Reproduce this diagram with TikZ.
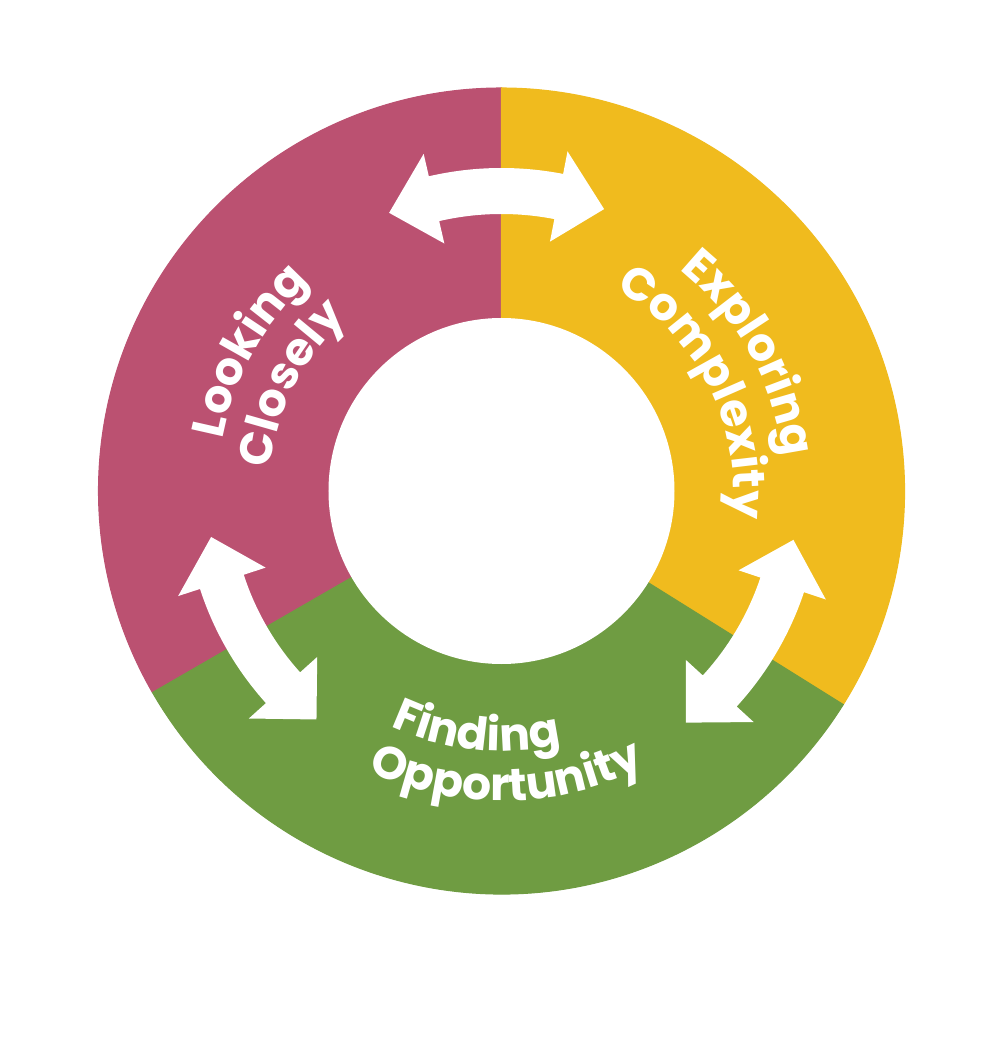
\documentclass[tikz,border=0pt]{standalone}
\usepackage{fontspec}
\usetikzlibrary{decorations.text}
\newfontfamily\ringfam{Poppins}
\definecolor{ringred}{RGB}{187,81,113}
\definecolor{ringyellow}{RGB}{240,187,30}
\definecolor{ringgreen}{RGB}{111,156,66}
\newcommand{\ringfont}{\ringfam\bfseries\fontsize{13pt}{14pt}\selectfont}
\tikzset{
  ringsector/.style={fill=#1, draw=#1, line width=0.3pt},
  ringarrow/.style={fill=white},
  ringlabel/.style={decorate, decoration={text along path, text align=center,
      text color=white, text={|\ringfont|#1}}},
}
% one sector of the ring: start angle, end angle, colour
\newcommand{\ringpart}[3]{%
  \filldraw[ringsector=#3] (c) -- (#1:4.03) arc[start angle=#1, end angle=#2, radius=4.03] -- cycle;}
% curved double arrow: mid angle, radius
\newcommand{\ringarrow}[2]{%
  \fill[ringarrow] ({#1-12}:{#2+0.23}) arc[start angle={#1-12}, end angle={#1+12}, radius={#2+0.23}]
    -- ({#1+12}:{#2+0.46}) -- ({#1+21}:#2) -- ({#1+12}:{#2-0.46}) -- ({#1+12}:{#2-0.23})
    arc[start angle={#1+12}, end angle={#1-12}, radius={#2-0.23}]
    -- ({#1-12}:{#2-0.46}) -- ({#1-21}:#2) -- ({#1-12}:{#2+0.46}) -- cycle;}

\begin{document}
\begin{tikzpicture}
  \useasboundingbox[fill=white] (-5.015,-5.60) rectangle (4.985,4.91);
  \coordinate (c) at (0,0);

  \ringpart{90}{210}{ringred}
  \ringpart{-32}{90}{ringyellow}
  \ringpart{210}{328}{ringgreen}
  \fill[white] (c) circle (1.73);

  \ringarrow{91}{3.00}
  \ringarrow{210}{2.94}
  \ringarrow{-30.5}{2.96}

  \path[ringlabel=Looking] (191:2.84) arc[start angle=191, end angle=111, radius=2.84];
  \path[ringlabel=Closely] (198:2.32) arc[start angle=198, end angle=108, radius=2.32];
  \path[ringlabel=Exploring] (69:2.84) arc[start angle=69, end angle=-11, radius=2.84];
  \path[ringlabel=Complexity] (75:2.32) arc[start angle=75, end angle=-21, radius=2.32];
  \path[ringlabel=Finding] (224:2.60) arc[start angle=224, end angle=304, radius=2.60];
  \path[ringlabel=Opportunity] (226:3.10) arc[start angle=226, end angle=316, radius=3.10];
\end{tikzpicture}
\end{document}
